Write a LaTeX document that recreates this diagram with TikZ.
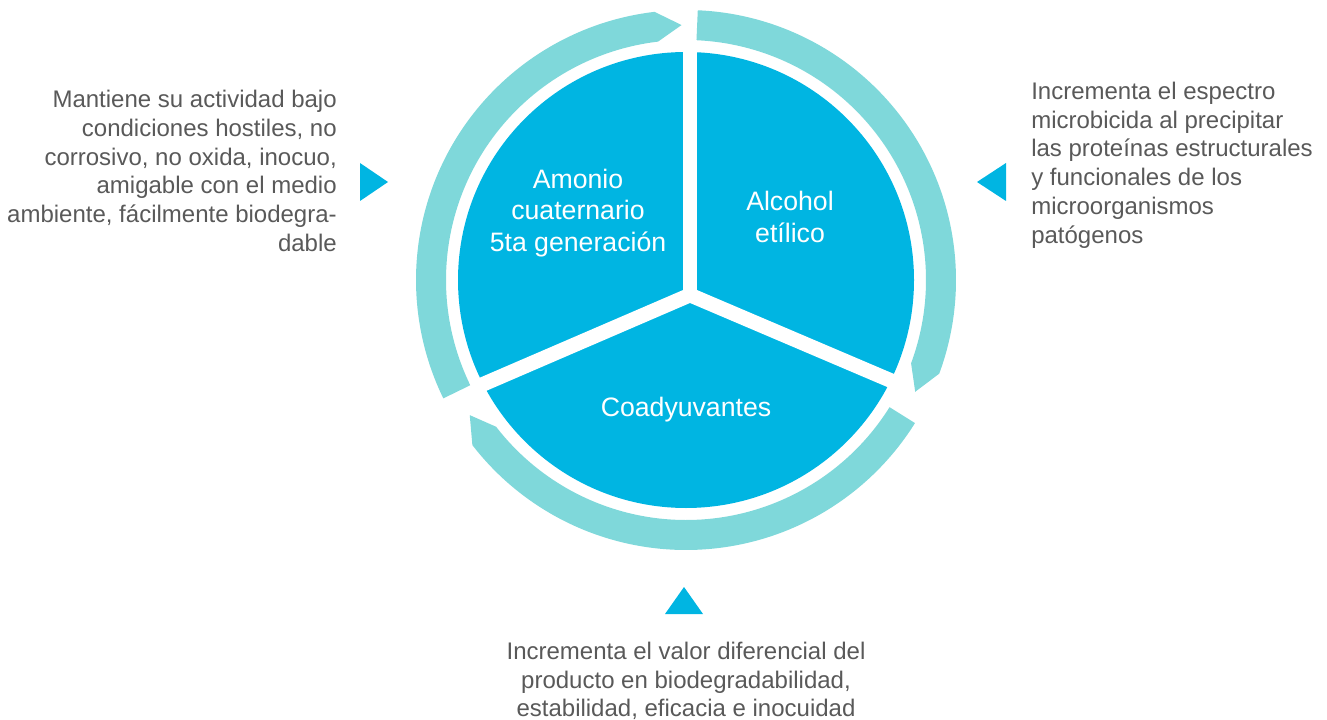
\documentclass[tikz,border=0pt]{standalone}
\usepackage{fontspec}
\setmainfont{Liberation Sans}
\definecolor{pieblue}{RGB}{0,181,226}
\definecolor{ringteal}{RGB}{127,216,218}
\definecolor{txtgray}{RGB}{89,89,89}
\tikzset{
  ringarc/.style={fill=ringteal},
  sep/.style={draw=white, line width=11pt},
  pointer/.style={fill=pieblue},
  sidetext/.style={text=txtgray, inner sep=0pt, font=\fontsize{18pt}{21.6pt}\selectfont},
  pietext/.style={text=white, inner sep=0pt, align=center, font=\fontsize{20pt}{23.6pt}\selectfont},
}
\newcommand{\ringpiece}[2]{% start angle, tip angle
  \pgfmathsetmacro{\sh}{#2+5.7}
  \fill[ringarc] (#1:240) arc[start angle=#1, end angle=\sh, radius=240]
     -- (#2:255) -- (\sh:270) arc[start angle=\sh, end angle=#1, radius=270] -- cycle;
}
\begin{document}
\begin{tikzpicture}[x=0.75pt,y=0.75pt]
\useasboundingbox (0,0) rectangle (1327,-720);
\begin{scope}[shift={(686,-280)}]
  \ringpiece{206}{91}
  \ringpiece{87.5}{-26}
  \ringpiece{-32}{-148}
  \fill[pieblue] (0,0) circle[radius=228];
  \coordinate (j) at (4,-15);
  \coordinate (s1) at (4,240);
  \coordinate (s2) at (207:240);
  \coordinate (s3) at (334:240);
  \draw[sep] (j) -- (s1);
  \draw[sep] (j) -- (s2);
  \draw[sep] (j) -- (s3);
\end{scope}
\node[pietext] (amonio) at (578,-213) {Amonio\\cuaternario\\5ta generación};
\node[pietext] (alcohol) at (790,-217) {Alcohol\\etílico};
\node[pietext] (coad) at (686,-410) {Coadyuvantes};
\node[sidetext, anchor=east, align=right] (left) at (337,-171) {Mantiene su actividad bajo\\condiciones hostiles, no\\corrosivo, no oxida, inocuo,\\amigable con el medio\\ambiente, fácilmente biodegra-\\dable};
\node[sidetext, anchor=west, align=left] (right) at (1031,-165) {Incrementa el espectro\\microbicida al precipitar\\las proteínas estructurales\\y funcionales de los\\microorganismos\\patógenos};
\node[sidetext, align=center] (bottom) at (686,-681) {Incrementa el valor diferencial del\\producto en biodegradabilidad,\\estabilidad, eficacia e inocuidad};
\fill[pointer] (360,-163) -- (388,-182) -- (360,-201) -- cycle;
\fill[pointer] (1006,-163) -- (977,-182) -- (1006,-201) -- cycle;
\fill[pointer] (665,-614) -- (684,-587) -- (703,-614) -- cycle;
\end{tikzpicture}
\end{document}
